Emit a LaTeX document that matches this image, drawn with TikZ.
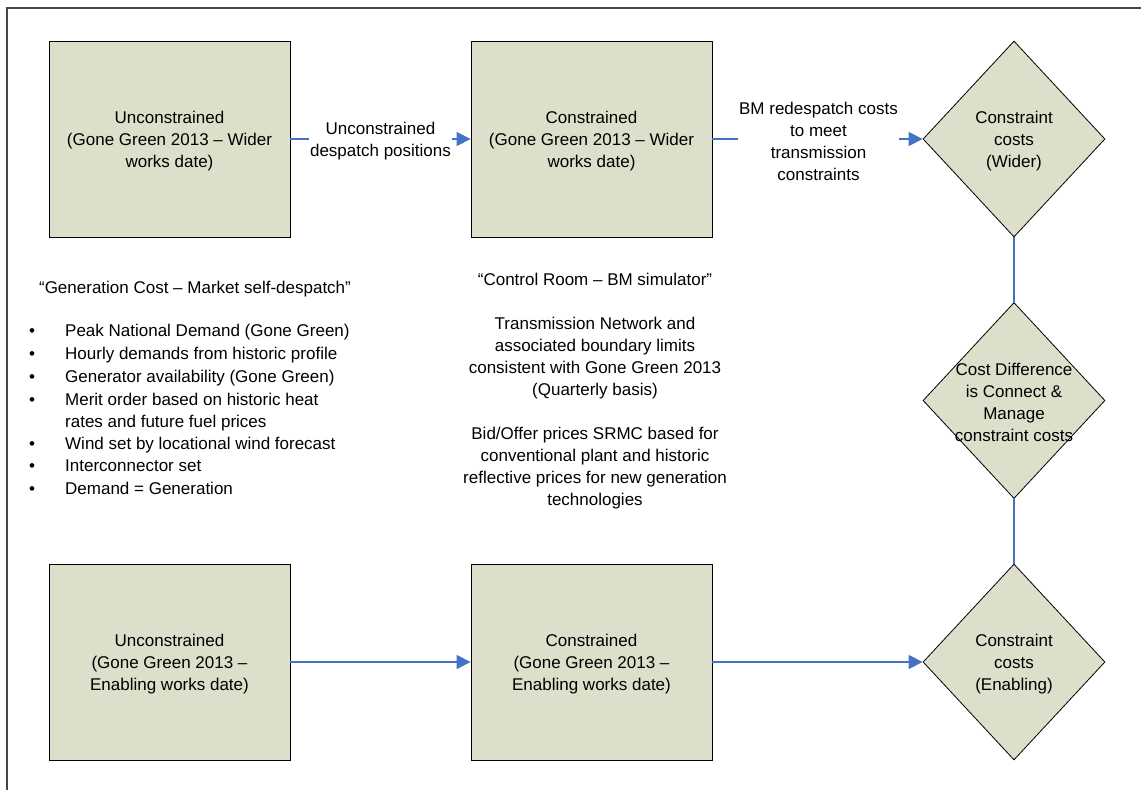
\documentclass[tikz,border=0pt]{standalone}
\usepackage{fontspec}
\setmainfont{Liberation Sans}
\usetikzlibrary{shapes.geometric,arrows.meta}
\definecolor{boxfill}{RGB}{221,223,203}
\definecolor{linkblue}{RGB}{68,114,196}
\definecolor{framegray}{RGB}{70,70,70}
\tikzset{
  txt/.style={font=\fontsize{17}{22}\selectfont, align=center, inner sep=0pt, yshift=-2pt},
  procbox/.style={draw=black, line width=0.8pt, fill=boxfill, minimum width=241pt, minimum height=196pt, inner sep=0pt},
  decbox/.style={draw=black, line width=0.8pt, fill=boxfill, diamond, minimum width=182pt, minimum height=196pt, inner sep=0pt},
  link/.style={draw=linkblue, line width=1.3pt},
  arrowlink/.style={link, -{Triangle[length=14pt,width=14pt]}},
  lbl/.style={txt, fill=white, inner sep=1pt},
  item/.style={font=\fontsize{17}{22}\selectfont, anchor=mid west, inner sep=0pt, yshift=-3.5pt},
}
\begin{document}
\begin{tikzpicture}[x=1pt,y=-1pt]
\useasboundingbox (0,0) rectangle (1141,790);
% frame
\coordinate (fA) at (7,790);
\coordinate (fB) at (7,8);
\coordinate (fC) at (1141,8);
\draw[framegray, line width=1.2pt] (fA) -- (fB) -- (fC);

% boxes
\node[procbox] (u1) at (169.5,139) {};
\node[txt] (u1t) at (u1) {Unconstrained\\(Gone Green 2013 – Wider\\works date)};
\node[procbox] (c1) at (591.5,139) {};
\node[txt] (c1t) at (c1) {Constrained\\(Gone Green 2013 – Wider\\works date)};
\node[procbox] (u2) at (169.5,662) {};
\node[txt] (u2t) at (u2) {Unconstrained\\(Gone Green 2013 –\\Enabling works date)};
\node[procbox] (c2) at (591.5,662) {};
\node[txt] (c2t) at (c2) {Constrained\\(Gone Green 2013 –\\Enabling works date)};

% diamonds
\node[decbox] (d1) at (1014,139) {};
\node[txt] (d1t) at (d1) {Constraint\\costs\\(Wider)};
\node[decbox] (d2) at (1014,400.5) {};
\node[txt] (d2t) at (d2) {Cost Difference\\is Connect \&\\Manage\\constraint costs};
\node[decbox] (d3) at (1014,662) {};
\node[txt] (d3t) at (d3) {Constraint\\costs\\(Enabling)};

% connectors
\draw[arrowlink] (u1.east) -- (c1.west)
  node[lbl, midway] (l1) {Unconstrained\\despatch positions};
\draw[arrowlink] (c1.east) -- (d1.west)
  node[lbl, midway, xshift=1pt] (l2) {BM redespatch costs\\to meet\\transmission\\constraints};
\draw[arrowlink] (u2.east) -- (c2.west);
\draw[arrowlink] (c2.east) -- (d3.west);
\draw[link] (d1.south) -- (d2.north);
\draw[link] (d2.south) -- (d3.north);

% left text block
\node[txt] (genhead) at (195,287) {“Generation Cost – Market self-despatch”};
\node[item] (b1) at (29,330) {•};
\node[item] (t1) at (65,330) {Peak National Demand (Gone Green)};
\node[item] (b2) at (29,353) {•};
\node[item] (t2) at (65,353) {Hourly demands from historic profile};
\node[item] (b3) at (29,376) {•};
\node[item] (t3) at (65,376) {Generator availability (Gone Green)};
\node[item] (b4) at (29,399) {•};
\node[item] (t4) at (65,399) {Merit order based on historic heat};
\node[item] (t4b) at (65,421) {rates and future fuel prices};
\node[item] (b5) at (29,443) {•};
\node[item] (t5) at (65,443) {Wind set by locational wind forecast};
\node[item] (b6) at (29,465) {•};
\node[item] (t6) at (65,465) {Interconnector set};
\node[item] (b7) at (29,488) {•};
\node[item] (t7) at (65,488) {Demand = Generation};

% middle text block
\node[txt] (midtext) at (595,389.5) {“Control Room – BM simulator”\\[22pt]
Transmission Network and\\associated boundary limits\\consistent with Gone Green 2013\\(Quarterly basis)\\[22pt]
Bid/Offer prices SRMC based for\\conventional plant and historic\\reflective prices for new generation\\technologies};
\end{tikzpicture}
\end{document}
